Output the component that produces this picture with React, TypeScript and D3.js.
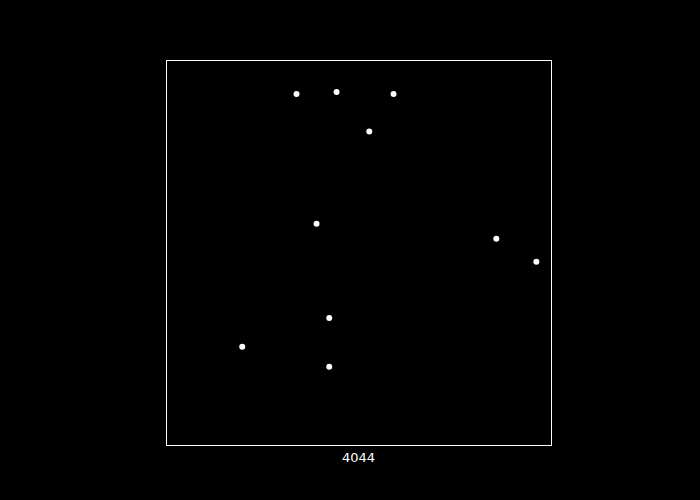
import React from "react";
import * as d3 from "d3";

const xValues = [0.339, 0.443, 0.591, 0.528, 0.391, 0.858, 0.962, 0.424, 0.198, 0.424];
const yValues = [0.912, 0.917, 0.912, 0.814, 0.575, 0.536, 0.476, 0.330, 0.255, 0.203];
const xLabel = "4044";

export default function App() {
  const W = 700, H = 500;
  const left = 166, right = 551, top = 60, bottom = 445;
  const x = d3.scaleLinear().domain([0, 1]).range([left, right]);
  const y = d3.scaleLinear().domain([0, 1]).range([bottom, top]);
  const pts = xValues.map((v, i) => ({ x: v, y: yValues[i] }));
  return (
    <svg width={W} height={H} style={{ position: "fixed", top: 0, left: 0, background: "#000" }}>
      <rect x={0} y={0} width={W} height={H} fill="#000" />
      <rect x={left + 0.5} y={top + 0.5} width={right - left} height={bottom - top} fill="none" stroke="#fff" strokeWidth={1} />
      {pts.map((p, i) => (
        <circle key={i} cx={x(p.x)} cy={y(p.y)} r={3} fill="#fff" />
      ))}
      <text x={(left + right) / 2} y={462} textAnchor="middle" fill="#fff" fontFamily="DejaVu Sans" fontSize={13}>{xLabel}</text>
    </svg>
  );
}
